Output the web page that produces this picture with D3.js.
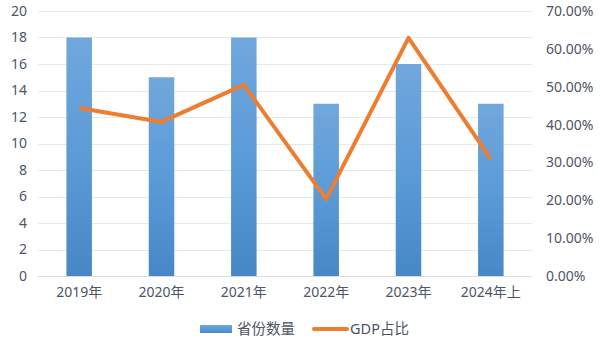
<!DOCTYPE html>
<head>
  <meta charset="utf-8">
  <script src="https://d3js.org/d3.v7.min.js"></script>
  <style>
    body { margin:0; background:#fff; }
    text { font-family: "Noto Sans", "Noto Sans CJK SC", sans-serif; fill:#4d5566; font-size:14px; }
  </style>
</head>
<body>
<svg width="600" height="351"></svg>
<script>

const years = ["2019年", "2020年", "2021年", "2022年", "2023年", "2024年上"]
const provinces = [18, 15, 18, 13, 16, 13]
const gdpShare = [0.444, 0.407, 0.505, 0.203, 0.629, 0.309]
const leftTicks = [0, 2, 4, 6, 8, 10, 12, 14, 16, 18, 20]
const rightTicks = [0, 0.1, 0.2, 0.3, 0.4, 0.5, 0.6, 0.7]

const svg = d3.select("svg"),
      plotL = 38, plotR = 532, plotT = 11, plotB = 276

const x = d3.scaleBand().domain(years).range([plotL, plotR]).paddingInner(0.69).paddingOuter(0.345)
const y = d3.scaleLinear().domain([0, 20]).range([plotB, plotT])
const y2 = d3.scaleLinear().domain([0, 0.7]).range([plotB, plotT])

const grad = svg.append("defs").append("linearGradient")
    .attr("id", "barfill").attr("x1", 0).attr("y1", 0).attr("x2", 0).attr("y2", 1)
grad.append("stop").attr("offset", "0%").attr("stop-color", "#71a7dc")
grad.append("stop").attr("offset", "50%").attr("stop-color", "#5b9bd8")
grad.append("stop").attr("offset", "100%").attr("stop-color", "#4787c6")

// grid
svg.append("g").selectAll("line").data(leftTicks).enter().append("line")
    .attr("x1", plotL).attr("x2", plotR)
    .attr("y1", d => Math.round(y(d)) + 0.5).attr("y2", d => Math.round(y(d)) + 0.5)
    .attr("stroke", d => d === 0 ? "#d9dde4" : "#e6e9ee").attr("stroke-width", 1)

// axes
const ax = svg.append("g").attr("transform", `translate(${plotL - 11},0)`)
    .call(d3.axisLeft(y).tickValues(leftTicks).tickSize(0).tickPadding(0))
ax.select(".domain").remove()

const ax2 = svg.append("g").attr("transform", `translate(${plotR + 14},0)`)
    .call(d3.axisRight(y2).tickValues(rightTicks).tickSize(0).tickPadding(0).tickFormat(d3.format(".2%")))
ax2.select(".domain").remove()

const xa = svg.append("g").attr("transform", `translate(0,${plotB + 9})`)
    .call(d3.axisBottom(x).tickSize(0).tickPadding(0))
xa.select(".domain").remove()
xa.selectAll("text").attr("dy", "0.85em")

svg.selectAll(".tick text").style("font-size", "14px").style("fill", "#4d5566")
    .style("font-family", "'Noto Sans', 'Noto Sans CJK SC', sans-serif")

// bars
svg.append("g").selectAll("rect").data(provinces).enter().append("rect")
    .attr("x", (d, i) => x(years[i]))
    .attr("y", d => y(d))
    .attr("width", x.bandwidth())
    .attr("height", d => plotB - y(d))
    .attr("fill", "url(#barfill)")

// line
const line = d3.line().x((d, i) => x(years[i]) + x.bandwidth() / 2).y(d => y2(d))
svg.append("path").datum(gdpShare)
    .attr("d", line)
    .attr("fill", "none").attr("stroke", "#ed7d31").attr("stroke-width", 4)
    .attr("stroke-linejoin", "round")

// legend
const lg = svg.append("g").attr("transform", "translate(0,329)")
lg.append("rect").attr("x", 200).attr("y", -4).attr("width", 32).attr("height", 8).attr("fill", "url(#barfill)")
lg.append("text").attr("x", 237).attr("y", 0).attr("dy", "0.35em").style("font-size", "14.5px").text("省份数量")
lg.append("line").attr("x1", 314).attr("x2", 347).attr("y1", 0).attr("y2", 0)
    .attr("stroke", "#ed7d31").attr("stroke-width", 4).attr("stroke-linecap", "round")
lg.append("text").attr("x", 350).attr("y", 0).attr("dy", "0.35em").style("font-size", "14.5px").text("GDP占比")

</script>
</body>
